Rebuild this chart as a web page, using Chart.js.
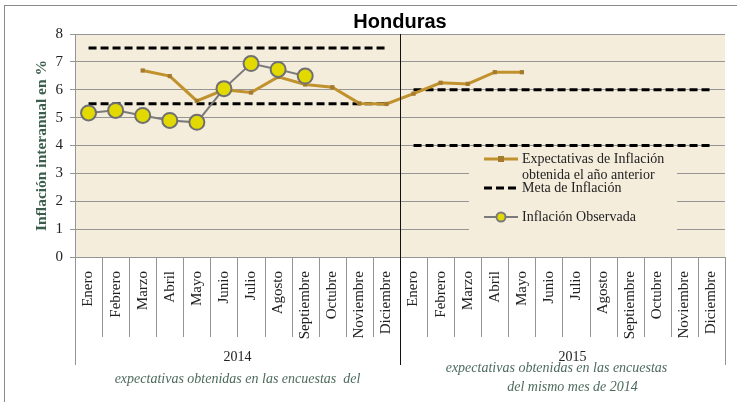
<!DOCTYPE html>
<html>
<head>
<meta charset="utf-8">
<script src="https://cdn.jsdelivr.net/npm/chart.js@4.4.1/dist/chart.umd.min.js"></script>
<style>
  html, body { margin: 0; padding: 0; background: #ffffff; }
  #wrap { position: relative; width: 737px; height: 402px; }
</style>
</head>
<body>
<div id="wrap"><canvas id="c" width="737" height="402"></canvas></div>
<script>
// ---- data ----
const months = ['Enero','Febrero','Marzo','Abril','Mayo','Junio','Julio','Agosto','Septiembre','Octubre','Noviembre','Diciembre',
                'Enero','Febrero','Marzo','Abril','Mayo','Junio','Julio','Agosto','Septiembre','Octubre','Noviembre','Diciembre'];
const years = ['2014', '2015'];
const observed = [5.17, 5.26, 5.08, 4.90, 4.83, 6.04, 6.94, 6.73, 6.49, null, null, null,
                  null, null, null, null, null, null, null, null, null, null, null, null];
const expectations = [null, null, 6.69, 6.49, 5.60, 6.00, 5.90, 6.46, 6.19, 6.09, 5.51, 5.49,
                      5.86, 6.25, 6.21, 6.63, 6.63, null, null, null, null, null, null, null];
const metaUpper2014 = [7.5, 7.5, 7.5, 7.5, 7.5, 7.5, 7.5, 7.5, 7.5, 7.5, 7.5, 7.5,
                       null, null, null, null, null, null, null, null, null, null, null, null];
const metaLower2014 = [5.5, 5.5, 5.5, 5.5, 5.5, 5.5, 5.5, 5.5, 5.5, 5.5, 5.5, 5.5,
                       null, null, null, null, null, null, null, null, null, null, null, null];
const metaUpper2015 = [null, null, null, null, null, null, null, null, null, null, null, null,
                       6, 6, 6, 6, 6, 6, 6, 6, 6, 6, 6, 6];
const metaLower2015 = [null, null, null, null, null, null, null, null, null, null, null, null,
                       4, 4, 4, 4, 4, 4, 4, 4, 4, 4, 4, 4];
const yTicks = [0, 1, 2, 3, 4, 5, 6, 7, 8];
const legendLabels = ['Expectativas de Inflación', 'obtenida el año anterior', 'Meta de Inflación', 'Inflación Observada'];
const notes2014 = ['expectativas obtenidas en las encuestas  del'];
const notes2015 = ['expectativas obtenidas en las encuestas', 'del mismo mes de 2014'];

const SERIF = '"Liberation Serif", "DejaVu Serif", serif';
const GOLD = '#c0922e';
const GOLD_MARK = '#a57a2c';
const BG = '#f5eddc';
const GRID = '#959595';
const NOTE = '#4d6a5d';

const bgPlugin = {
  id: 'bg',
  beforeDraw(chart) {
    const {ctx, chartArea: a} = chart;
    ctx.save();
    ctx.fillStyle = BG;
    ctx.fillRect(a.left, a.top, a.right - a.left, a.bottom - a.top);
    ctx.restore();
  }
};

const legendPlugin = {
  id: 'customLegend',
  beforeDatasetsDraw(chart) {
    const {ctx} = chart;
    ctx.save();
    ctx.fillStyle = BG;
    ctx.fillRect(469, 150, 208, 86);
    const x0 = 484, x1 = 518, tx = 522;
    // expectations sample
    ctx.strokeStyle = GOLD; ctx.lineWidth = 3; ctx.setLineDash([]);
    ctx.beginPath(); ctx.moveTo(x0, 159); ctx.lineTo(x1, 159); ctx.stroke();
    ctx.fillStyle = GOLD_MARK; ctx.fillRect(498, 156, 6, 6);
    // meta sample
    ctx.strokeStyle = '#000'; ctx.lineWidth = 3; ctx.setLineDash([8, 4]);
    ctx.beginPath(); ctx.moveTo(x0, 188); ctx.lineTo(x1, 188); ctx.stroke();
    ctx.setLineDash([]);
    // observed sample
    ctx.strokeStyle = '#7a7a7a'; ctx.lineWidth = 2;
    ctx.beginPath(); ctx.moveTo(x0, 217); ctx.lineTo(x1, 217); ctx.stroke();
    ctx.beginPath(); ctx.arc(501, 217, 4.5, 0, Math.PI * 2);
    ctx.fillStyle = '#e2d900'; ctx.fill(); ctx.stroke();
    // text
    ctx.fillStyle = '#222';
    ctx.font = '14px ' + SERIF;
    ctx.textBaseline = 'middle'; ctx.textAlign = 'left';
    ctx.fillText(legendLabels[0], tx, 159);
    ctx.fillText(legendLabels[1], tx, 175);
    ctx.fillText(legendLabels[2], tx, 188);
    ctx.fillText(legendLabels[3], tx, 217);
    ctx.restore();
  }
};

const axisDecor = {
  id: 'axisDecor',
  afterDraw(chart) {
    const {ctx, chartArea: a} = chart;
    const xs = chart.scales.x;
    const step = (xs.getPixelForValue(1) - xs.getPixelForValue(0));
    const boundary = i => xs.getPixelForValue(0) - step / 2 + i * step;
    ctx.save();
    ctx.lineWidth = 1;
    for (let i = 0; i <= 24; i++) {
      const bx = Math.round(boundary(i)) + 0.5;
      ctx.beginPath();
      if (i === 12) {
        ctx.strokeStyle = '#111';
        ctx.moveTo(bx, a.top); ctx.lineTo(bx, 365);
      } else if (i === 0 || i === 24) {
        ctx.strokeStyle = GRID;
        ctx.moveTo(bx, a.bottom); ctx.lineTo(bx, 365);
      } else {
        ctx.strokeStyle = GRID;
        ctx.moveTo(bx, a.bottom); ctx.lineTo(bx, 337);
      }
      ctx.stroke();
    }
    // year labels
    ctx.fillStyle = '#222';
    ctx.font = '14px ' + SERIF;
    ctx.textAlign = 'center'; ctx.textBaseline = 'middle';
    ctx.fillText(years[0], (boundary(0) + boundary(12)) / 2, 357);
    ctx.fillText(years[1], (boundary(12) + boundary(24)) / 2 + 10, 357);
    // notes
    ctx.fillStyle = NOTE;
    ctx.font = 'italic 14px ' + SERIF;
    ctx.fillText(notes2014[0], (boundary(0) + boundary(12)) / 2, 379);
    ctx.fillText(notes2015[0], (boundary(12) + boundary(24)) / 2 - 6, 368);
    ctx.fillText(notes2015[1], (boundary(12) + boundary(24)) / 2 + 10, 387);
    // outer frame
    ctx.strokeStyle = '#8a8a8a';
    ctx.strokeRect(4.5, 5.5, 740, 410);
    ctx.restore();
  }
};

new Chart(document.getElementById('c'), {
  type: 'line',
  data: {
    labels: months,
    datasets: [
      { label: 'Inflación Observada', data: observed, borderColor: '#7a7a7a', borderWidth: 2,
        pointRadius: 7.5, pointBackgroundColor: '#e2d900', pointBorderColor: '#707070', pointBorderWidth: 2,
        tension: 0, spanGaps: false },
      { label: 'Expectativas de Inflación obtenida el año anterior', data: expectations, borderColor: GOLD, borderWidth: 3,
        pointStyle: 'rect', pointRadius: 3, pointBackgroundColor: GOLD_MARK, pointBorderColor: GOLD_MARK, pointBorderWidth: 0,
        tension: 0 },
      { label: 'Meta de Inflación', data: metaUpper2014, borderColor: '#000', borderWidth: 3, borderDash: [8, 4], pointRadius: 0 },
      { label: 'Meta de Inflación', data: metaLower2014, borderColor: '#000', borderWidth: 3, borderDash: [8, 4], pointRadius: 0 },
      { label: 'Meta de Inflación', data: metaUpper2015, borderColor: '#000', borderWidth: 3, borderDash: [8, 4], pointRadius: 0 },
      { label: 'Meta de Inflación', data: metaLower2015, borderColor: '#000', borderWidth: 3, borderDash: [8, 4], pointRadius: 0 }
    ]
  },
  options: {
    responsive: false,
    animation: false,
    events: [],
    layout: { padding: { left: 0, right: 12, top: 0, bottom: 0 } },
    plugins: {
      legend: { display: false },
      tooltip: { enabled: false },
      title: {
        display: true, text: 'Honduras', fullSize: false, color: '#000',
        font: { family: '"Liberation Sans", Arial, sans-serif', size: 20, weight: 'bold', lineHeight: 1.15 },
        padding: { top: 11, bottom: 0 }
      }
    },
    scales: {
      x: {
        type: 'category',
        offset: true,
        grid: { display: false },
        border: { display: true, color: GRID, width: 1 },
        ticks: {
          autoSkip: false, maxRotation: 90, minRotation: 90, padding: 6,
          color: '#222', font: { family: SERIF, size: 15 }
        },
        afterFit(s) { s.height = 145; }
      },
      y: {
        min: 0, max: 8,
        afterBuildTicks(s) { s.ticks = yTicks.map(v => ({ value: v })); },
        grid: { color: GRID, lineWidth: 1, tickLength: 5, tickColor: GRID },
        border: { display: true, color: GRID },
        ticks: { color: '#222', padding: 7, font: { family: SERIF, size: 15 } },
        title: {
          display: true, text: 'Inflación interanual en %', color: '#3b5e4c',
          font: { family: SERIF, size: 15.5, weight: 'bold' },
          padding: { top: 33, bottom: 0 }
        },
        afterFit(s) { s.width = 75; }
      }
    }
  },
  plugins: [bgPlugin, legendPlugin, axisDecor]
});
</script>
</body>
</html>
